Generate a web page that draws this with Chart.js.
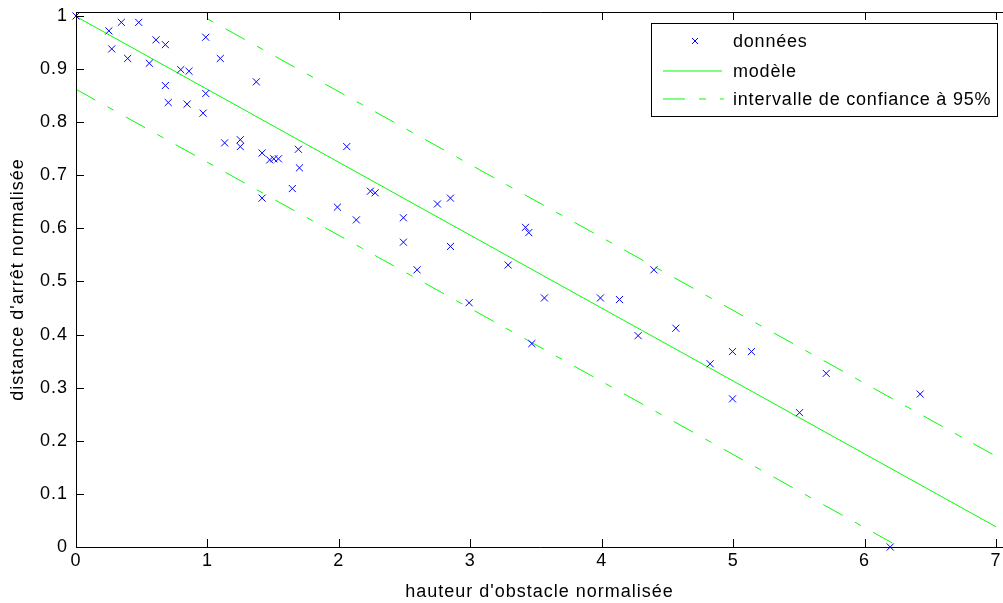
<!DOCTYPE html>
<html>
<head>
<meta charset="utf-8">
<script src="https://cdn.jsdelivr.net/npm/chart.js@4/dist/chart.umd.min.js"></script>
<style>
  html, body { margin: 0; padding: 0; background: #fff; }
</style>
</head>
<body>
<canvas id="chart" width="1003" height="603"></canvas>
<script>
// données mesurées (hauteur d'obstacle / distance d'arrêt, normalisées)
const hauteur = [0, 0.25, 0.345, 0.477, 0.272, 0.393, 0.558, 0.609, 0.68, 0.797,
  0.86, 0.68, 0.702, 0.845, 0.967, 0.987, 0.987, 1.098, 1.372, 1.131,
  1.25, 1.25, 1.416, 1.474, 1.505, 1.54, 1.692, 1.70, 1.646, 1.416,
  2.06, 2.24, 2.276, 1.989, 2.133, 2.491, 2.491, 2.75, 2.849, 2.849,
  2.595, 2.991, 3.288, 3.42, 3.445, 3.564, 3.468, 3.99, 4.135, 4.397,
  4.277, 4.564, 4.825, 4.995, 5.139, 4.995, 5.708, 5.505, 6.423, 6.195];
const distance = [1.0, 0.972, 0.988, 0.988, 0.938, 0.920, 0.911, 0.955, 0.946, 0.899,
  0.896, 0.869, 0.837, 0.834, 0.817, 0.854, 0.960, 0.920, 0.876, 0.761,
  0.767, 0.754, 0.742, 0.729, 0.731, 0.731, 0.749, 0.714, 0.675, 0.657,
  0.754, 0.670, 0.667, 0.640, 0.616, 0.620, 0.574, 0.646, 0.657, 0.566,
  0.522, 0.460, 0.531, 0.602, 0.592, 0.469, 0.383, 0.469, 0.466, 0.522,
  0.398, 0.412, 0.345, 0.368, 0.368, 0.279, 0.327, 0.253, 0.288, 0.0];

// modèle linéaire et intervalle de confiance (extrémités)
const lineX = [0, 7];
const modeleY = [0.999, 0.038];
const hautY = [1.132, 0.171];
const basY = [0.862, -0.101];

const xTicks = [0, 1, 2, 3, 4, 5, 6, 7];
const yTicks = [0, 0.1, 0.2, 0.3, 0.4, 0.5, 0.6, 0.7, 0.8, 0.9, 1];
const labels = ['données', 'modèle', 'intervalle de confiance à 95%'];

const FONT = "'Liberation Sans', Arial, sans-serif";
const GREEN = '#00ff00';
const BLUE = '#0000ff';
const DASH = [22, 14, 7, 14];

const pts = (xs, ys) => xs.map((x, i) => ({ x: x, y: ys[i] }));
const noPad = s => { s.paddingTop = 0; s.paddingBottom = 0; s.paddingLeft = 0; s.paddingRight = 0; };

Chart.defaults.font.family = FONT;
Chart.defaults.font.size = 18;
Chart.defaults.color = '#000';

// boîte, graduations intérieures et légende façon MATLAB
const matlabBox = {
  id: 'matlabBox',
  beforeDraw(chart) {
    chart.ctx.letterSpacing = '1px';
  },
  afterDraw(chart) {
    const ctx = chart.ctx;
    const a = chart.chartArea;
    const xs = chart.scales.x, ys = chart.scales.y;
    ctx.save();
    ctx.strokeStyle = '#000';
    ctx.lineWidth = 1;
    ctx.beginPath();
    ctx.rect(Math.round(a.left) + 0.5, Math.round(a.top) + 0.5, a.right - a.left + 4, Math.round(a.bottom - a.top));
    xTicks.forEach(v => {
      const px = Math.round(xs.getPixelForValue(v)) + 0.5;
      ctx.moveTo(px, a.bottom); ctx.lineTo(px, a.bottom - 8);
      ctx.moveTo(px, a.top); ctx.lineTo(px, a.top + 8);
    });
    yTicks.forEach(v => {
      const py = Math.round(ys.getPixelForValue(v)) + 0.5;
      ctx.moveTo(a.left, py); ctx.lineTo(a.left + 8, py);
    });
    ctx.stroke();

    // légende
    const L = 651.5, T = 23.5, R = 997.5, B = 116.5;
    ctx.fillStyle = '#fff';
    ctx.fillRect(L, T, R - L, B - T);
    ctx.strokeRect(L, T, R - L, B - T);
    const rows = [41, 71, 99];
    ctx.font = '18px ' + FONT;
    ctx.letterSpacing = '0.8px';
    ctx.fillStyle = '#000';
    ctx.textBaseline = 'middle';
    ctx.textAlign = 'left';
    labels.forEach((t, i) => ctx.fillText(t, 733, rows[i] + 1));

    ctx.strokeStyle = BLUE;
    ctx.beginPath();
    ctx.moveTo(692, rows[0] - 3); ctx.lineTo(698, rows[0] + 3);
    ctx.moveTo(698, rows[0] - 3); ctx.lineTo(692, rows[0] + 3);
    ctx.stroke();

    ctx.strokeStyle = GREEN;
    ctx.beginPath();
    ctx.moveTo(663, rows[1]); ctx.lineTo(722, rows[1]);
    ctx.stroke();
    ctx.setLineDash(DASH);
    ctx.beginPath();
    ctx.moveTo(663, rows[2]); ctx.lineTo(724, rows[2]);
    ctx.stroke();
    ctx.restore();
  }
};

new Chart(document.getElementById('chart'), {
  type: 'scatter',
  data: {
    datasets: [
      {
        label: labels[0],
        data: pts(hauteur, distance),
        pointStyle: 'crossRot',
        pointRadius: 5,
        pointBorderWidth: 1,
        borderColor: BLUE,
        backgroundColor: BLUE,
        clip: false
      },
      {
        label: labels[1],
        data: pts(lineX, modeleY),
        showLine: true,
        pointRadius: 0,
        borderColor: GREEN,
        borderWidth: 1
      },
      {
        label: labels[2],
        data: pts(lineX, hautY),
        showLine: true,
        pointRadius: 0,
        borderColor: GREEN,
        borderWidth: 1,
        borderDash: DASH
      },
      {
        label: labels[2],
        data: pts(lineX, basY),
        showLine: true,
        pointRadius: 0,
        borderColor: GREEN,
        borderWidth: 1,
        borderDash: DASH
      }
    ]
  },
  options: {
    responsive: false,
    animation: false,
    layout: { autoPadding: false, padding: { top: 12, right: 0, bottom: 0, left: 0 } },
    plugins: { legend: { display: false }, tooltip: { enabled: false } },
    scales: {
      x: {
        type: 'linear',
        min: 0,
        max: 7.053,
        afterBuildTicks: s => { s.ticks = xTicks.map(v => ({ value: v })); },
        afterFit: s => { s.height = 56; noPad(s); },
        grid: { display: false, drawTicks: false },
        border: { display: false },
        ticks: { padding: 3, maxRotation: 0, autoSkip: false, callback: v => String(v) },
        title: { display: true, text: "hauteur d'obstacle normalisée", padding: { top: 2, bottom: 0 } }
      },
      y: {
        type: 'linear',
        min: 0,
        max: 1.0075,
        afterBuildTicks: s => { s.ticks = yTicks.map(v => ({ value: v })); },
        afterFit: s => { s.width = 76; noPad(s); },
        grid: { display: false, drawTicks: false },
        border: { display: false },
        ticks: { padding: 8, autoSkip: false, callback: v => String(Math.round(v * 10) / 10) },
        title: { display: true, text: "distance d'arrêt normalisée", padding: { top: 7, bottom: 0 } }
      }
    }
  },
  plugins: [matlabBox]
});
</script>
</body>
</html>
